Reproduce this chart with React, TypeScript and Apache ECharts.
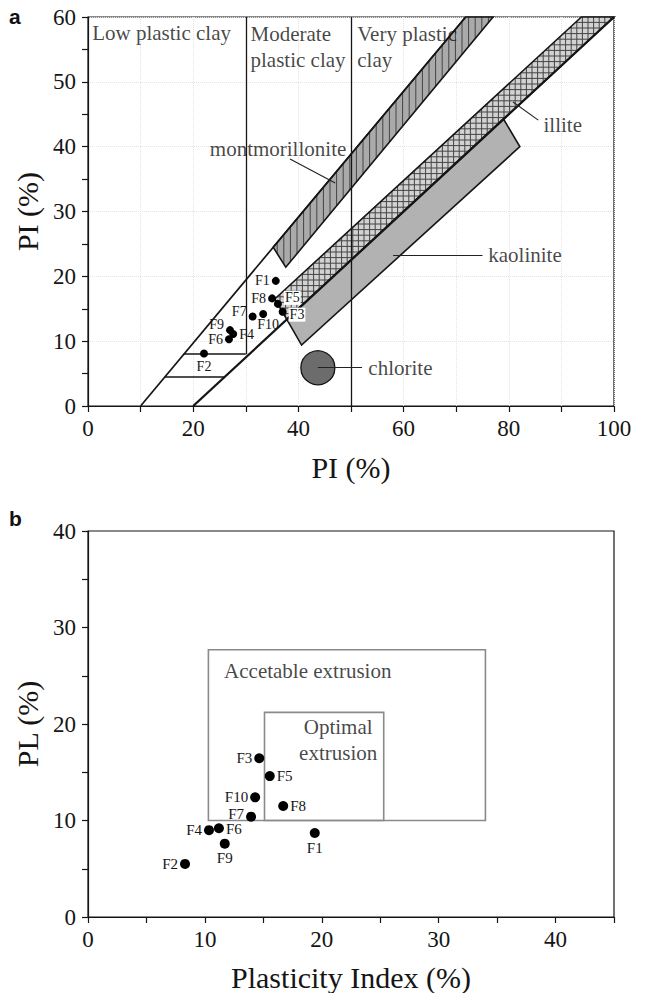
import React, { useEffect, useRef } from "react";
import * as echarts from "echarts";

// ---------- DATA ----------
const sampleNames = ["F1", "F2", "F3", "F4", "F5", "F6", "F7", "F8", "F9", "F10"];
// chart a (x: PI axis 0-100, y: PI axis 0-60)
const topX = [35.7, 22.05, 37.0, 27.6, 36.1, 26.8, 31.3, 35.0, 27.0, 33.3];
const topY = [19.3, 8.1, 14.55, 11.1, 15.75, 10.3, 13.8, 16.6, 11.7, 14.2];
// chart b (x: plasticity index, y: PL)
const bottomPI = [19.4, 8.3, 14.65, 10.35, 15.55, 11.2, 13.95, 16.7, 11.7, 14.3];
const bottomPL = [8.7, 5.5, 16.45, 9.0, 14.6, 9.2, 10.4, 11.5, 7.6, 12.4];

const boundaryUpper = [[10, 0], [71.8, 60]];
const boundaryLower = [[20, 0], [100, 60]];
const dividerModerate = [[30, 8], [30, 60]];
const dividerVery = [[50, 0], [50, 60]];
const shelfUpper = [[18.2, 8], [30, 8]];
const shelfLower = [[14.6, 4.5], [26, 4.5]];

const montmorillonitePoly = [[35.2, 24.5], [71.8, 60], [77.0, 60], [37.6, 21.4]];
const illitePoly = [[35.5, 16.5], [93.8, 60], [100, 60], [37.8, 13.35]];
const kaolinitePoly = [[37.8, 13.35], [79.0, 44.25], [82.1, 40.0], [40.6, 9.4]];
const chloriteCenter = [43.7, 5.9];

const leaderMontmorillonite = [[38.4, 38.1], [47.0, 34.4]];
const leaderIllite = [[80.8, 46.9], [85.6, 44.1]];
const leaderKaolinite = [[58, 23.3], [75, 23.3]];
const leaderChlorite = [[43.7, 5.9], [52.1, 5.9]];

const topXTicks = [0, 20, 40, 60, 80, 100];
const topYTicks = [0, 10, 20, 30, 40, 50, 60];
const bottomXTicks = [0, 10, 20, 30, 40];
const bottomYTicks = [0, 10, 20, 30, 40];

const acceptableBox = [[10.3, 10], [34, 27.7]];
const optimalBox = [[15.1, 10], [25.3, 21.2]];

// ---------- STYLE ----------
const SERIF = "Liberation Serif";
const INK = "#151515";

const topLabelPlace: any[] = [
  { position: "left", offset: [0, 0] },
  { position: "bottom", offset: [0, 0] },
  { position: "right", offset: [0, 3], bg: true },
  { position: "right", offset: [0, 0] },
  { position: "right", offset: [0, -6], bg: true },
  { position: "left", offset: [0, 0] },
  { position: "left", offset: [0, -5] },
  { position: "left", offset: [0, 0] },
  { position: "left", offset: [0, -6] },
  { position: "bottom", offset: [5, -2] },
];
const bottomLabelPlace: any[] = [
  { position: "bottom", offset: [0, 0] },
  { position: "left", offset: [0, 0] },
  { position: "left", offset: [0, 0] },
  { position: "left", offset: [0, 0] },
  { position: "right", offset: [0, 0] },
  { position: "right", offset: [0, 1] },
  { position: "left", offset: [0, -3] },
  { position: "right", offset: [0, 0] },
  { position: "bottom", offset: [0, 0] },
  { position: "left", offset: [0, 0] },
];

const shapeStyles = [
  { poly: montmorillonitePoly, fill: "#aaaaaa", vertical: 6.6, grid: 0 },
  { poly: illitePoly, fill: "#d2d2d2", vertical: 5.6, grid: 5.6 },
  { poly: kaolinitePoly, fill: "#b2b2b2", vertical: 0, grid: 0 },
];

function spanAt(pts: number[][], axis: number, c: number): number[] | null {
  const vals: number[] = [];
  const other = axis === 0 ? 1 : 0;
  for (let i = 0; i < pts.length; i++) {
    const a = pts[i];
    const b = pts[(i + 1) % pts.length];
    const ka = a[axis];
    const kb = b[axis];
    if (ka === kb) continue;
    if ((ka - c) * (kb - c) <= 0) {
      const t = (c - ka) / (kb - ka);
      vals.push(a[other] + t * (b[other] - a[other]));
    }
  }
  if (vals.length < 2) return null;
  return [Math.min(...vals), Math.max(...vals)];
}

export default function App() {
  const ref = useRef<HTMLDivElement>(null);
  useEffect(() => {
    if (!ref.current) return;
    const chart = echarts.init(ref.current, undefined, { renderer: "svg" });

    const axisCommon = {
      type: "value",
      axisLine: { show: true, lineStyle: { color: INK, width: 1.2 } },
      axisTick: { show: true, inside: false, length: 6, lineStyle: { color: INK, width: 1.2 } },
      minorTick: { show: true, splitNumber: 2, length: 6, lineStyle: { color: INK, width: 1.2 } },
      nameLocation: "middle",
      nameTextStyle: { fontFamily: SERIF, fontSize: 30, color: INK },
    };
    const labelStyle = { fontFamily: SERIF, fontSize: 23, color: INK };
    const fmt = (ticks: number[]) => (v: number) => (ticks.includes(v) ? String(v) : "");

    const renderShape = (params: any, api: any) => {
      const st = shapeStyles[api.value(2)];
      const pts = st.poly.map((p) => api.coord(p));
      const xs = pts.map((p: number[]) => p[0]);
      const ys = pts.map((p: number[]) => p[1]);
      const children: any[] = [
        { type: "polygon", shape: { points: pts }, style: { fill: st.fill, stroke: "none" } },
      ];
      if (st.vertical) {
        const step = st.vertical;
        for (let x = Math.ceil(Math.min(...xs) / step) * step; x <= Math.max(...xs); x += step) {
          const s = spanAt(pts, 0, x);
          if (s)
            children.push({
              type: "line",
              shape: { x1: x, y1: s[0], x2: x, y2: s[1] },
              style: { stroke: "#444", lineWidth: 1 },
            });
        }
      }
      if (st.grid) {
        const step = st.grid;
        for (let y = Math.ceil(Math.min(...ys) / step) * step; y <= Math.max(...ys); y += step) {
          const s = spanAt(pts, 1, y);
          if (s)
            children.push({
              type: "line",
              shape: { x1: s[0], y1: y, x2: s[1], y2: y },
              style: { stroke: "#444", lineWidth: 1 },
            });
        }
      }
      children.push({
        type: "polygon",
        shape: { points: pts },
        style: { fill: "none", stroke: INK, lineWidth: 1.6 },
      });
      return { type: "group", children };
    };

    const boxes = [acceptableBox, optimalBox];
    const renderBox = (params: any, api: any) => {
      const b = boxes[api.value(2)];
      const p0 = api.coord(b[0]);
      const p1 = api.coord(b[1]);
      return {
        type: "rect",
        shape: { x: p0[0], y: p1[1], width: p1[0] - p0[0], height: p0[1] - p1[1] },
        style: { fill: "none", stroke: "#8a8a8a", lineWidth: 1.6 },
      };
    };

    const textItem = (x: number, y: number, text: string, position: string, extra: any = {}) => ({
      value: [x, y],
      label: {
        show: true,
        formatter: text,
        position,
        distance: 0,
        fontFamily: SERIF,
        fontSize: 21,
        color: INK,
        lineHeight: 26,
        ...extra,
      },
    });

    const option: any = {
      animation: false,
      backgroundColor: "#ffffff",
      graphic: [
        { type: "text", left: 9, top: 6, style: { text: "a", font: "bold 21px 'Liberation Sans'", fill: "#111" } },
        { type: "text", left: 9, top: 508, style: { text: "b", font: "bold 21px 'Liberation Sans'", fill: "#111" } },
      ],
      grid: [
        { left: 88, right: 32, top: 17, height: 389, show: true, borderColor: INK, borderWidth: 1.2, backgroundColor: "transparent" },
        { left: 88, right: 32, top: 531, height: 386, show: true, borderColor: INK, borderWidth: 1.2, backgroundColor: "transparent" },
      ],
      xAxis: [
        {
          ...axisCommon,
          gridIndex: 0,
          min: 0,
          max: 100,
          interval: 10,
          minorTick: { show: false },
          axisLabel: { ...labelStyle, margin: 11, formatter: fmt(topXTicks) },
          splitLine: { show: true, lineStyle: { color: "#e4e4e4", type: "dotted", width: 1 } },
          name: "PI (%)",
          nameGap: 46,
        },
        {
          ...axisCommon,
          gridIndex: 1,
          min: 0,
          max: 45,
          interval: 5,
          minorTick: { show: false },
          axisLabel: { ...labelStyle, margin: 11, formatter: fmt(bottomXTicks) },
          splitLine: { show: false },
          name: "Plasticity Index (%)",
          nameGap: 45,
        },
      ],
      yAxis: [
        {
          ...axisCommon,
          gridIndex: 0,
          min: 0,
          max: 60,
          interval: 10,
          axisLabel: { ...labelStyle, margin: 12, formatter: fmt(topYTicks) },
          splitLine: { show: true, lineStyle: { color: "#e4e4e4", type: "dotted", width: 1 } },
          name: "PI (%)",
          nameGap: 36,
        },
        {
          ...axisCommon,
          gridIndex: 1,
          min: 0,
          max: 40,
          interval: 10,
          axisLabel: { ...labelStyle, margin: 12, formatter: fmt(bottomYTicks) },
          splitLine: { show: false },
          name: "PL (%)",
          nameGap: 36,
        },
      ],
      series: [
        {
          type: "custom",
          xAxisIndex: 0,
          yAxisIndex: 0,
          z: 2,
          silent: true,
          renderItem: renderShape,
          encode: { x: 0, y: 1 },
          data: shapeStyles.map((s, i) => [s.poly[0][0], s.poly[0][1], i]),
        },
        {
          type: "lines",
          coordinateSystem: "cartesian2d",
          xAxisIndex: 0,
          yAxisIndex: 0,
          z: 3,
          silent: true,
          lineStyle: { color: INK, width: 1.2, opacity: 1 },
          data: [
            { coords: boundaryUpper, lineStyle: { width: 1.7 } },
            { coords: boundaryLower, lineStyle: { width: 2.3 } },
            { coords: dividerModerate, lineStyle: { width: 1.3 } },
            { coords: dividerVery, lineStyle: { width: 1.3 } },
            { coords: shelfUpper, lineStyle: { width: 1.6 } },
            { coords: shelfLower, lineStyle: { width: 1.6 } },
          ],
        },
        {
          type: "scatter",
          xAxisIndex: 0,
          yAxisIndex: 0,
          z: 4,
          silent: true,
          symbolSize: 34,
          itemStyle: { color: "#6c6c6c", borderColor: INK, borderWidth: 1.3, opacity: 1 },
          data: [chloriteCenter],
        },
        {
          type: "lines",
          coordinateSystem: "cartesian2d",
          xAxisIndex: 0,
          yAxisIndex: 0,
          z: 5,
          silent: true,
          lineStyle: { color: "#222", width: 1.1, opacity: 1 },
          data: [
            { coords: leaderMontmorillonite },
            { coords: leaderIllite },
            { coords: leaderKaolinite },
            { coords: leaderChlorite },
          ],
        },
        {
          type: "scatter",
          xAxisIndex: 0,
          yAxisIndex: 0,
          z: 6,
          silent: true,
          symbolSize: 8,
          itemStyle: { color: "#000", opacity: 1 },
          data: sampleNames.map((n, i) => ({
            value: [topX[i], topY[i]],
            label: {
              show: true,
              formatter: n,
              position: topLabelPlace[i].position,
              offset: topLabelPlace[i].offset,
              distance: 2,
              fontFamily: SERIF,
              fontSize: 14,
              color: INK,
              backgroundColor: topLabelPlace[i].bg ? "#ffffff" : "transparent",
              padding: topLabelPlace[i].bg ? [0, 1] : 0,
            },
          })),
        },
        {
          type: "scatter",
          xAxisIndex: 0,
          yAxisIndex: 0,
          z: 7,
          silent: true,
          symbolSize: 1,
          itemStyle: { color: "rgba(0,0,0,0)" },
          data: [
            textItem(0.7, 57.5, "Low plastic clay", "right"),
            textItem(30.8, 55.4, "Moderate\nplastic clay", "right"),
            textItem(51.1, 55.4, "Very plastic\nclay", "right"),
            textItem(49.2, 39.6, "montmorillonite", "left"),
            textItem(86.5, 43.3, "illite", "right"),
            textItem(76.0, 23.3, "kaolinite", "right"),
            textItem(53.2, 5.9, "chlorite", "right"),
          ],
        },
        {
          type: "custom",
          xAxisIndex: 1,
          yAxisIndex: 1,
          z: 2,
          silent: true,
          renderItem: renderBox,
          encode: { x: 0, y: 1 },
          data: boxes.map((b, i) => [b[0][0], b[0][1], i]),
        },
        {
          type: "scatter",
          xAxisIndex: 1,
          yAxisIndex: 1,
          z: 6,
          silent: true,
          symbolSize: 10,
          itemStyle: { color: "#000", opacity: 1 },
          data: sampleNames.map((n, i) => ({
            value: [bottomPI[i], bottomPL[i]],
            label: {
              show: true,
              formatter: n,
              position: bottomLabelPlace[i].position,
              offset: bottomLabelPlace[i].offset,
              distance: 2,
              fontFamily: SERIF,
              fontSize: 15,
              color: INK,
            },
          })),
        },
        {
          type: "scatter",
          xAxisIndex: 1,
          yAxisIndex: 1,
          z: 7,
          silent: true,
          symbolSize: 1,
          itemStyle: { color: "rgba(0,0,0,0)" },
          data: [
            textItem(11.6, 25.5, "Accetable extrusion", "right"),
            textItem(21.4, 18.3, "Optimal\nextrusion", "inside", { align: "center" }),
          ],
        },
      ],
    };
    chart.setOption(option);
    return () => chart.dispose();
  }, []);
  return (
    <div
      ref={ref}
      style={{ position: "absolute", left: 0, top: 0, width: 646, height: 993, background: "#fff" }}
    />
  );
}
